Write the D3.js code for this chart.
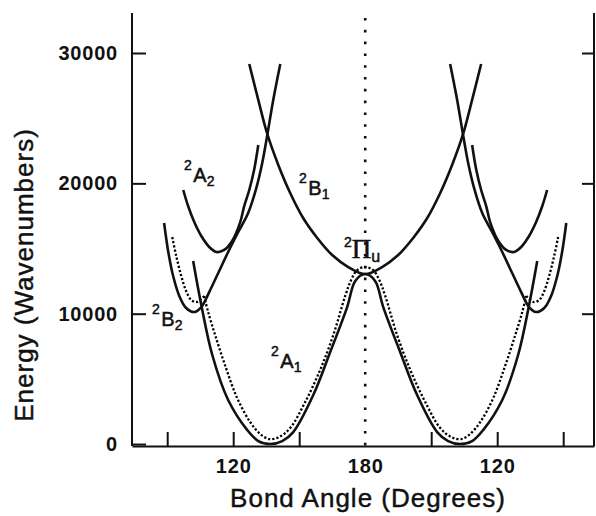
<!DOCTYPE html>
<html>
<head>
<meta charset="utf-8">
<script src="https://cdn.jsdelivr.net/npm/d3@7/dist/d3.min.js"></script>
<style>
  body { margin: 0; background: #fff; }
  svg { display: block; }
</style>
</head>
<body>
<svg id="chart" width="596" height="516"></svg>
<script>
// Bending coordinate: runs 90 -> 180 -> 270, angles past linear read back as 360 - θ.
const tickAngles = [90, 120, 150, 180, 210, 240, 270];
const tickText = { 120: "120", 180: "180", 240: "120" };
const energyTicks = [0, 10000, 20000, 30000];
const rightTicks = [10000, 20000, 30000];

// ²A₁ (solid) — double well, peak at linear geometry
const a1Angle  = [101.8, 105.5, 110.5, 117.7, 126.4, 131.4, 136.8, 142.3, 147.3, 156.4, 164.1, 171.8, 175.5,
                  180,
                  184.5, 188.2, 195.9, 203.6, 212.7, 217.7, 223.2, 228.6, 233.6, 242.3, 249.5, 254.5, 258.2];
const a1Energy = [14040, 10670, 6830, 3380, 1070, 230, 0, 230, 920, 3760, 7060, 10510, 12510,
                  13040,
                  12510, 10510, 7060, 3760, 920, 230, 0, 230, 1070, 3380, 6830, 10670, 14040];

// ²A₁ (dotted) — second calculation, central part between the two cusps
const a1dAngle  = [106.8, 108.6, 111.8, 116.4, 121.8, 127.7, 132.3, 136.4, 140.9, 145.9, 152.7, 159.5, 165.5, 170.9, 173.6, 176.4,
                   180,
                   183.6, 186.4, 189.1, 194.5, 200.5, 207.3, 214.1, 219.1, 223.6, 227.7, 232.3, 238.2, 243.6, 248.2, 251.4, 253.2];
const a1dEnergy = [11360, 10130, 8360, 5990, 3530, 1690, 770, 380, 540, 1230, 3220, 5680, 8360, 11360, 12580, 13350,
                   13580,
                   13350, 12580, 11360, 8360, 5680, 3220, 1230, 540, 380, 770, 1690, 3530, 5990, 8360, 10130, 11360];
// dotted outer pieces (small-angle side of each cusp)
const dotLeftAngle   = [92.3, 94.1, 96.4, 98.6, 100.9, 103.6, 106.8];
const dotLeftEnergy  = [15880, 14430, 12890, 11740, 11050, 10900, 11360];
const dotRightAngle  = [253.2, 256.4, 259.1, 261.4, 263.6, 265.9, 267.7];
const dotRightEnergy = [11360, 10900, 11050, 11740, 12890, 14430, 15880];

// ²B₁ — single well at 180°
const b1Angle  = [127.3, 131.4, 135.5, 140.5, 145.9, 151.8, 158.2, 165.0, 172.3, 180,
                  187.7, 195.0, 201.8, 208.2, 214.1, 219.5, 224.5, 228.6, 232.7];
const b1Energy = [29160, 26400, 23790, 21410, 19260, 17340, 15810, 14500, 13580, 13040,
                  13580, 14500, 15810, 17340, 19260, 21410, 23790, 26400, 29160];

// ²B₂ — left and right wells
const b2LeftAngle   = [88.6, 90.5, 92.7, 95.5, 98.6, 102.3, 105.5, 109.1, 113.2, 117.7, 122.3, 126.8, 130.5, 133.2, 135.5, 138.2, 141.4];
const b2LeftEnergy  = [16960, 14730, 12890, 11360, 10440, 10130, 10510, 11660, 13120, 14730, 16270, 17730, 19640, 21560, 23710, 26400, 29160];
const b2RightAngle  = [218.6, 221.8, 224.5, 226.8, 229.5, 233.2, 237.7, 242.3, 246.8, 250.9, 254.5, 257.7, 261.4, 264.5, 267.3, 269.5, 271.4];
const b2RightEnergy = [29160, 26400, 23710, 21560, 19640, 17730, 16270, 14730, 13120, 11660, 10510, 10130, 10440, 11360, 12890, 14730, 16960];

// ²A₂ — left and right wells
const a2LeftAngle   = [97.3, 99.5, 102.3, 105.5, 109.1, 112.3, 115.9, 119.5, 123.2, 125.0, 127.3, 129.5, 131.4];
const a2LeftEnergy  = [19490, 18260, 17030, 15960, 15120, 14730, 14890, 15580, 17030, 18260, 19490, 21020, 22940];
const a2RightAngle  = [228.6, 230.5, 232.7, 235.0, 236.8, 240.5, 244.1, 247.7, 250.9, 254.5, 257.7, 260.5, 262.7];
const a2RightEnergy = [22940, 21020, 19490, 18260, 17030, 15580, 14890, 14730, 15120, 15960, 17030, 18260, 19490];

const ink = "#111";
const sans = "'Liberation Sans', Arial, Helvetica, sans-serif";
const serif = "'Liberation Serif', 'Times New Roman', serif";

const svg = d3.select("#chart");
const x = d3.scaleLinear().domain([74, 284]).range([132, 594]);
const y = d3.scaleLinear().domain([-150, 30000]).range([446, 53]);
const frameTop = 13;
const [xl, xr] = x.range();
const yb = y.range()[0];

// frame: left and right rules
svg.append("g").attr("stroke", ink).attr("stroke-width", 2)
  .selectAll("line")
  .data([[xl, frameTop, xl, yb], [xr, frameTop, xr, yb]])
  .join("line")
  .attr("x1", d => d[0]).attr("y1", d => d[1]).attr("x2", d => d[2]).attr("y2", d => d[3]);

// bottom axis, ticks pointing inward
const gx = svg.append("g").attr("transform", `translate(0,${yb})`)
  .call(d3.axisBottom(x).tickValues(tickAngles).tickSizeInner(-14).tickSizeOuter(0)
    .tickPadding(13).tickFormat(d => tickText[d] || ""));
gx.selectAll(".tick").filter(d => d === 180).select("line").remove();

// left energy axis
const gy = svg.append("g").attr("transform", `translate(${xl},0)`)
  .call(d3.axisLeft(y).tickValues(energyTicks).tickSizeInner(-14).tickSizeOuter(0)
    .tickPadding(14).tickFormat(d => String(d)));
gy.select(".domain").remove();

// right axis ticks only
const gr = svg.append("g").attr("transform", `translate(${xr},0)`)
  .call(d3.axisRight(y).tickValues(rightTicks).tickSizeInner(-12).tickSizeOuter(0).tickFormat(""));
gr.select(".domain").remove();

[gx, gy, gr].forEach(g => {
  g.attr("font-family", sans).attr("font-size", 20).attr("font-weight", "bold");
  g.selectAll("path, line").attr("stroke", ink).attr("stroke-width", 2);
  g.selectAll("text").attr("fill", ink).attr("letter-spacing", 0.8);
});

// linear-geometry marker
svg.append("line")
  .attr("x1", x(180)).attr("x2", x(180))
  .attr("y1", 18).attr("y2", yb)
  .attr("stroke", ink).attr("stroke-width", 2.6)
  .attr("stroke-dasharray", "2.6 9.2");

const zip = (a, e) => a.map((v, i) => [v, e[i]]);
const line = d3.line()
  .x(d => x(d[0])).y(d => y(d[1]))
  .curve(d3.curveCatmullRom.alpha(0.5));

const solidCurves = [
  zip(a1Angle, a1Energy),
  zip(b1Angle, b1Energy),
  zip(b2LeftAngle, b2LeftEnergy),
  zip(b2RightAngle, b2RightEnergy),
  zip(a2LeftAngle, a2LeftEnergy),
  zip(a2RightAngle, a2RightEnergy)
];
const dottedCurves = [
  zip(a1dAngle, a1dEnergy),
  zip(dotLeftAngle, dotLeftEnergy),
  zip(dotRightAngle, dotRightEnergy)
];

svg.append("g").selectAll("path").data(dottedCurves).join("path")
  .attr("d", line).attr("fill", "none")
  .attr("stroke", "#000").attr("stroke-width", 2.3).attr("stroke-dasharray", "2.2 2");

svg.append("g").selectAll("path").data(solidCurves).join("path")
  .attr("d", line).attr("fill", "none")
  .attr("stroke", ink).attr("stroke-width", 2.6).attr("stroke-linecap", "butt");

// state labels
const states = [
  { main: "A", sub: "2", x: 184, y: 182 },
  { main: "B", sub: "1", x: 299, y: 195 },
  { main: "B", sub: "2", x: 152, y: 326 },
  { main: "A", sub: "1", x: 271, y: 368 }
];
const lab = svg.append("g").attr("fill", ink).attr("font-family", sans)
  .attr("stroke", ink).attr("stroke-width", 0.5);
states.forEach(s => {
  const t = lab.append("text").attr("x", s.x).attr("y", s.y);
  t.append("tspan").attr("font-size", 14).attr("dy", -12).text("2");
  t.append("tspan").attr("font-size", 20).attr("dy", 12).attr("dx", 1.5).text(s.main);
  t.append("tspan").attr("font-size", 14).attr("dy", 4).text(s.sub);
});
const pi = lab.append("text").attr("x", 344).attr("y", 258);
pi.append("tspan").attr("font-size", 14).attr("dy", -11).text("2");
pi.append("tspan").attr("font-family", serif).attr("font-size", 27).attr("dy", 11).text("Π");
pi.append("tspan").attr("font-size", 16).attr("dy", 4).text("u");

// axis titles
const titles = svg.append("g")
  .attr("font-family", sans).attr("font-size", 26).attr("letter-spacing", 1)
  .attr("fill", ink).attr("stroke", ink).attr("stroke-width", 0.45)
  .attr("text-anchor", "middle");
titles.append("text")
  .attr("transform", "translate(33,275) rotate(-90)")
  .text("Energy (Wavenumbers)");
titles.append("text")
  .attr("x", 368).attr("y", 507)
  .text("Bond Angle (Degrees)");
</script>
</body>
</html>
